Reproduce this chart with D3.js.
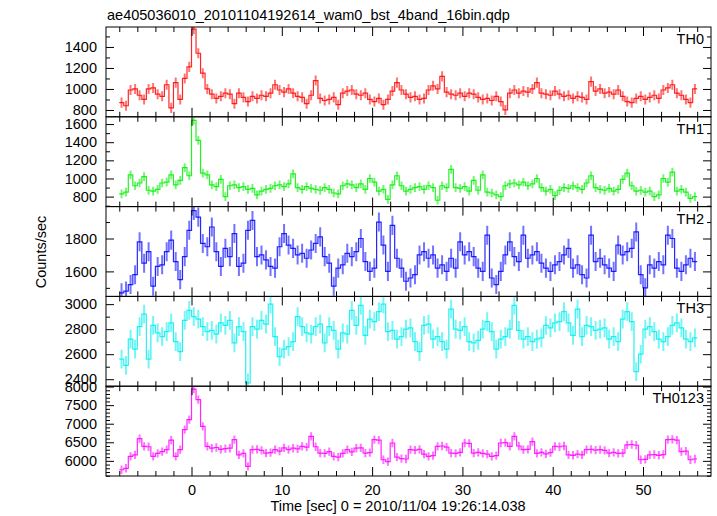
<!DOCTYPE html>
<html><head><meta charset="utf-8">
<script src="https://cdn.jsdelivr.net/npm/d3@7"></script>
<style>body{margin:0;background:#fff;} svg text{font-family:"Liberation Sans",Arial,sans-serif;}</style>
</head><body><svg id="c" width="717" height="516"></svg>
<script>
const title = "ae405036010_20101104192614_wam0_bst_4band_16bin.qdp";
const xLabel = "Time [sec] 0 = 2010/11/04 19:26:14.038";
const yLabel = "Counts/sec";
const bandNames = ["TH0", "TH1", "TH2", "TH3", "TH0123"];
const binStart = -8, binSize = 0.5;

const th0 = [870,840,990,1000,940,900,1000,1010,950,930,
 1040,820,1060,900,1100,1210,1570,1340,1150,1000,
 950,910,930,960,950,860,960,920,880,930,
 910,940,930,960,1040,990,970,1000,960,930,
 920,860,940,1080,910,890,900,920,850,960,
 980,990,950,940,960,900,880,910,850,900,
 980,1060,990,950,920,930,900,910,990,1030,
 1000,1120,970,950,940,960,930,960,950,920,
 900,910,890,930,880,800,960,990,960,980,
 970,1000,1060,960,950,940,980,950,930,940,
 910,930,920,900,1070,980,1000,960,970,950,
 990,930,880,870,910,930,900,920,940,910,
 990,1010,1040,960,940,900,870,1000];
const th1 = [830,850,1040,920,950,1020,870,860,880,950,
 960,1040,930,980,1120,1030,1640,1420,1060,1040,
 930,910,990,800,920,930,900,910,880,890,
 820,860,880,890,920,930,910,940,1050,900,
 880,910,890,880,870,900,880,840,830,920,
 940,930,900,940,880,1000,960,860,880,770,
 930,1030,920,860,880,900,910,880,920,900,
 760,920,900,1100,900,890,910,860,980,870,
 1040,850,840,820,800,920,940,950,930,960,
 920,940,1000,900,860,880,810,870,900,890,
 920,900,880,950,1030,900,880,870,890,860,
 880,990,1060,920,860,870,850,860,800,820,
 1000,960,1070,860,880,850,780,800];
const th2 = [1470,1480,1520,1580,1780,1650,1720,1510,1630,1640,
 1720,1790,1660,1550,1690,1850,1970,1930,1770,1750,
 1870,1720,1630,1740,1690,1830,1630,1650,1850,1910,
 1690,1700,1670,1630,1620,1750,1830,1760,1740,1700,
 1710,1680,1730,1770,1810,1690,1650,1510,1620,1640,
 1710,1690,1720,1800,1660,1600,1620,1900,1760,1600,
 1880,1680,1620,1540,1560,1580,1700,1720,1680,1700,
 1620,1640,1600,1680,1620,1780,1700,1720,1690,1620,
 1600,1820,1560,1520,1600,1700,1780,1690,1660,1820,
 1680,1700,1720,1650,1620,1600,1640,1660,1700,1740,
 1620,1640,1580,1560,1820,1660,1680,1640,1620,1600,
 1760,1700,1720,1740,1840,1580,1500,1640,1620,1660,
 1640,1820,1800,1620,1600,1640,1680,1660];
const th3 = [2560,2510,2720,2640,2820,2920,2560,2830,2770,2740,
 2780,2850,2700,2620,2870,2950,2900,2880,2820,2780,
 2790,2760,2850,2830,2870,2690,2820,2780,2370,2820,
 2800,2870,2840,3000,2740,2580,2640,2660,2700,2900,
 2820,2770,2760,2820,2840,2690,2820,2790,2640,2770,
 2760,2950,2830,2990,2750,2880,2860,2940,3000,2780,
 2790,2720,2740,2800,2810,2700,2620,2830,2840,2720,
 2740,2700,2640,2960,2800,2790,2820,2700,2690,2710,
 2800,2860,2780,2640,2720,2740,2800,2990,2790,2720,
 2740,2700,2720,2730,2830,2810,2850,2860,2940,2850,
 2750,2960,2740,2830,2820,2790,2800,2810,2720,2740,
 2700,2880,2940,2860,2460,2600,2800,2820,2780,2720,
 2700,2740,2830,2850,2810,2720,2700,2730];
const th0123 = [5760,5800,6120,6160,6600,6390,6380,6120,6200,6250,
 6300,6560,6120,6300,6840,7110,7930,7650,6930,6390,
 6340,6360,6310,6330,6340,6570,6160,6200,5850,6300,
 6310,6280,6210,6220,6300,6260,6350,6300,6340,6320,
 6390,6370,6660,6380,6210,6200,6250,6120,6100,6200,
 6300,6240,6340,6350,6210,6220,6570,6560,6030,5980,
 6480,6100,6060,6050,6300,6290,6310,6180,6120,6140,
 6390,6400,6370,6210,6200,6230,6480,6470,6210,6230,
 6200,6180,6120,6140,6480,6490,6390,6660,6400,6300,
 6310,6520,6200,6230,6190,6220,6390,6380,6400,6160,
 6150,6180,6160,6300,6310,6290,6300,6280,6210,6230,
 6200,6210,6430,6440,6420,6030,6040,6160,6170,6150,
 6170,6570,6580,6560,6250,6260,6030,6050];

const series = [th0, th1, th2, th3, th0123];
const errs = [48, 48, 58, 75, 112];
const yDomains = [[735,1590],[690,1680],[1448,1994],[2344,3062],[5592,8010]];
const yMajor = [[800,1000,1200,1400],[800,1000,1200,1400,1600],[1600,1800],[2400,2600,2800,3000],[6000,6500,7000,7500,8000]];
const yMinorStep = 100;
const xDomain = [-9.47, 57.53];
const xMajor = [0,10,20,30,40,50];
const xMinorStep = 2;
const colors = ["#ff0000","#00ee00","#0000ff","#00eeee","#ff00ff"];

const L = 106, R = 711, T0 = 27, PH = 89.8;
const svg = d3.select("#c");
const x = d3.scaleLinear().domain(xDomain).range([L, R]);
const xMinor = d3.range(-8, 57, xMinorStep).filter(v => !xMajor.includes(v));
const FS = "14.5px", FF = "Liberation Sans";

svg.append("text").attr("x", 107).attr("y", 20).attr("font-size", FS).text(title);

series.forEach((vals, p) => {
  const top = T0 + p * PH, bot = top + PH;
  const y = d3.scaleLinear().domain(yDomains[p]).range([bot, top]);
  const data = vals.map((v, i) => ({lo: binStart + i * binSize, hi: binStart + (i + 1) * binSize, v}));
  const cid = "clip" + p;
  svg.append("clipPath").attr("id", cid).append("rect")
    .attr("x", L).attr("y", top).attr("width", R - L).attr("height", PH);
  const g = svg.append("g").attr("clip-path", `url(#${cid})`);
  g.selectAll("line.err").data(data).enter().append("line")
    .attr("x1", d => x((d.lo + d.hi) / 2)).attr("x2", d => x((d.lo + d.hi) / 2))
    .attr("y1", d => y(d.v - errs[p])).attr("y2", d => y(d.v + errs[p]))
    .attr("stroke", colors[p]).attr("stroke-opacity", 0.55).attr("stroke-width", 2);
  let path = "";
  data.forEach((d, i) => {
    path += (i === 0 ? `M${x(d.lo)},${y(d.v)}` : `L${x(d.lo)},${y(d.v)}`) + `L${x(d.hi)},${y(d.v)}`;
  });
  g.append("path").attr("d", path).attr("fill", "none")
    .attr("stroke", colors[p]).attr("stroke-width", 1.2).attr("stroke-opacity", 0.85);

  const [d0, d1] = yDomains[p];
  const yMin = d3.range(Math.ceil(d0 / yMinorStep) * yMinorStep, d1, yMinorStep).filter(v => !yMajor[p].includes(v));
  const clean = s => s.call(a => a.select(".domain").remove());
  svg.append("g").attr("transform", `translate(${L},0)`)
    .call(d3.axisLeft(y).tickValues(yMajor[p]).tickSize(-8).tickPadding(9).tickFormat(d3.format("d")))
    .call(clean)
    .call(a => a.selectAll("text").attr("font-size", FS).attr("font-family", FF));
  svg.append("g").attr("transform", `translate(${L},0)`)
    .call(d3.axisLeft(y).tickValues(yMin).tickSize(-4).tickFormat("")).call(clean);
  svg.append("g").attr("transform", `translate(${R},0)`)
    .call(d3.axisRight(y).tickValues(yMajor[p]).tickSize(-8).tickFormat("")).call(clean);
  svg.append("g").attr("transform", `translate(${R},0)`)
    .call(d3.axisRight(y).tickValues(yMin).tickSize(-4).tickFormat("")).call(clean);
  svg.append("g").attr("transform", `translate(0,${top})`)
    .call(d3.axisTop(x).tickValues(xMajor).tickSize(-9).tickFormat("")).call(clean);
  svg.append("g").attr("transform", `translate(0,${top})`)
    .call(d3.axisTop(x).tickValues(xMinor).tickSize(-5).tickFormat("")).call(clean);
  svg.append("g").attr("transform", `translate(0,${bot})`)
    .call(d3.axisBottom(x).tickValues(xMajor).tickSize(-9).tickPadding(9)
      .tickFormat(p === series.length - 1 ? d3.format("d") : ""))
    .call(clean)
    .call(a => a.selectAll("text").attr("font-size", FS).attr("font-family", FF));
  svg.append("g").attr("transform", `translate(0,${bot})`)
    .call(d3.axisBottom(x).tickValues(xMinor).tickSize(-5).tickFormat("")).call(clean);

  svg.append("rect").attr("x", L).attr("y", top).attr("width", R - L).attr("height", PH)
    .attr("fill", "none").attr("stroke", "#000").attr("stroke-width", 1);
  svg.append("text").attr("x", 704).attr("y", top + 17).attr("text-anchor", "end")
    .attr("font-size", FS).text(bandNames[p]);
});

svg.append("text").attr("x", 398).attr("y", 511).attr("text-anchor", "middle")
  .attr("font-size", FS).text(xLabel);
svg.append("text").attr("transform", "translate(46,252) rotate(-90)").attr("text-anchor", "middle")
  .attr("font-size", FS).text(yLabel);
</script></body></html>
